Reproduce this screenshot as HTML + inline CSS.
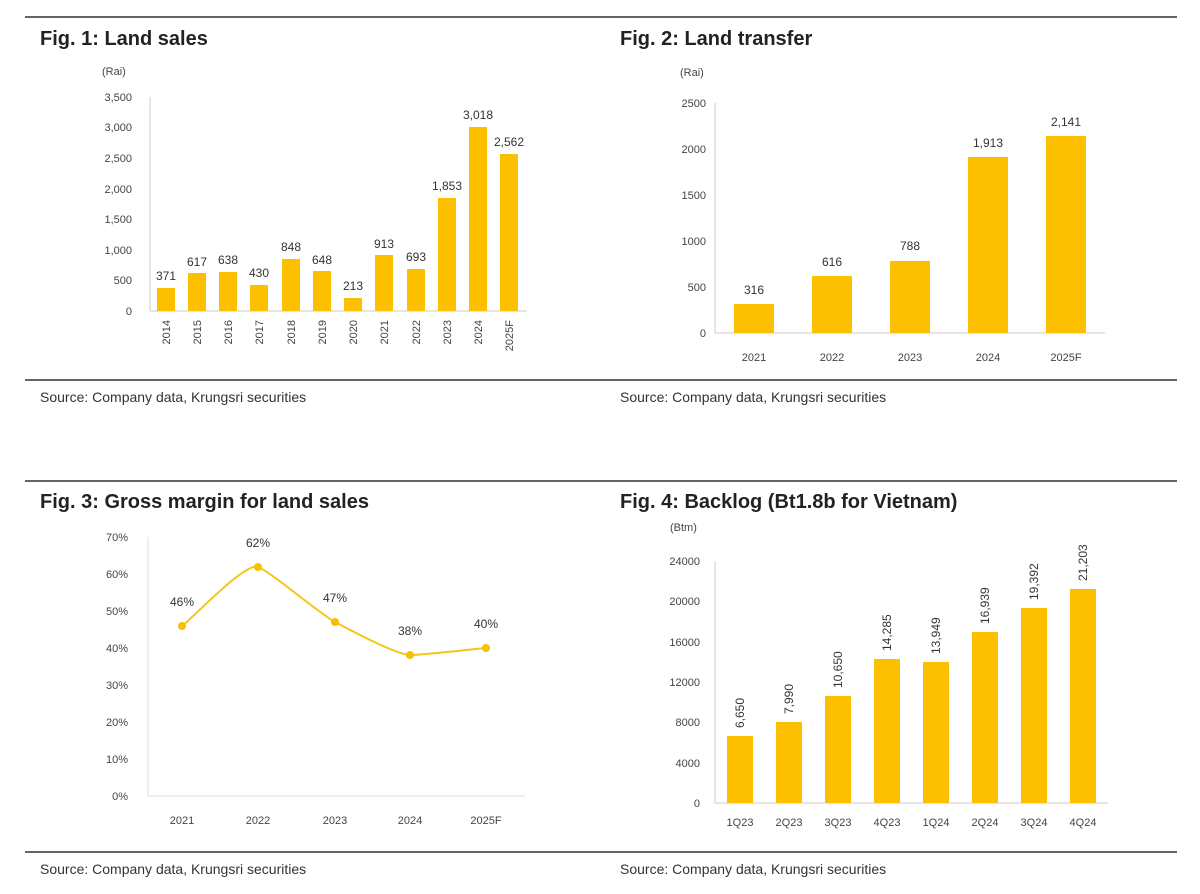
<!DOCTYPE html>
<html><head><style>
body{margin:0;background:#fff}
svg{display:block;font-family:"Liberation Sans",sans-serif}
.t{font-size:20px;font-weight:bold;fill:#222}
.s{font-size:14px;fill:#333}
.a{font-size:11px;fill:#444}
.v{font-size:12px;fill:#333}
.b{fill:#FCC000}
</style></head><body>
<svg width="1200" height="894" viewBox="0 0 1200 894">
<g stroke="#666" stroke-width="2">
<line x1="25" y1="17" x2="1177" y2="17"/><line x1="25" y1="380" x2="1177" y2="380"/>
<line x1="25" y1="481" x2="1177" y2="481"/><line x1="25" y1="852" x2="1177" y2="852"/>
</g>
<text class="t" x="40" y="45">Fig. 1: Land sales</text>
<text class="t" x="620" y="45">Fig. 2: Land transfer</text>
<text class="t" x="40" y="508">Fig. 3: Gross margin for land sales</text>
<text class="t" x="620" y="508">Fig. 4: Backlog (Bt1.8b for Vietnam)</text>
<text class="s" x="40" y="402">Source: Company data, Krungsri securities</text>
<text class="s" x="620" y="402">Source: Company data, Krungsri securities</text>
<text class="s" x="40" y="874">Source: Company data, Krungsri securities</text>
<text class="s" x="620" y="874">Source: Company data, Krungsri securities</text>

<!-- Fig1 -->
<text class="a" x="102" y="75">(Rai)</text>
<g class="a" text-anchor="end">
<text x="132" y="315">0</text><text x="132" y="284">500</text><text x="132" y="254">1,000</text><text x="132" y="223">1,500</text><text x="132" y="193">2,000</text><text x="132" y="162">2,500</text><text x="132" y="131">3,000</text><text x="132" y="101">3,500</text>
</g>
<g stroke="#ccc"><line x1="150" y1="97" x2="150" y2="311"/><line x1="150" y1="311" x2="527" y2="311"/></g>
<g class="b">
<rect x="157" y="288" width="18" height="23"/><rect x="188" y="273" width="18" height="38"/><rect x="219" y="272" width="18" height="39"/><rect x="250" y="285" width="18" height="26"/><rect x="282" y="259" width="18" height="52"/><rect x="313" y="271" width="18" height="40"/><rect x="344" y="298" width="18" height="13"/><rect x="375" y="255" width="18" height="56"/><rect x="407" y="269" width="18" height="42"/><rect x="438" y="198" width="18" height="113"/><rect x="469" y="127" width="18" height="184"/><rect x="500" y="154" width="18" height="157"/>
</g>
<g class="v" text-anchor="middle">
<text x="166" y="280">371</text><text x="197" y="266">617</text><text x="228" y="264">638</text><text x="259" y="277">430</text><text x="291" y="251">848</text><text x="322" y="264">648</text><text x="353" y="290">213</text><text x="384" y="248">913</text><text x="416" y="261">693</text><text x="447" y="190">1,853</text><text x="478" y="119">3,018</text><text x="509" y="146">2,562</text>
</g>
<g class="a" text-anchor="end">
<text transform="translate(170,320) rotate(-90)">2014</text><text transform="translate(201,320) rotate(-90)">2015</text><text transform="translate(232,320) rotate(-90)">2016</text><text transform="translate(263,320) rotate(-90)">2017</text><text transform="translate(295,320) rotate(-90)">2018</text><text transform="translate(326,320) rotate(-90)">2019</text><text transform="translate(357,320) rotate(-90)">2020</text><text transform="translate(388,320) rotate(-90)">2021</text><text transform="translate(420,320) rotate(-90)">2022</text><text transform="translate(451,320) rotate(-90)">2023</text><text transform="translate(482,320) rotate(-90)">2024</text><text transform="translate(513,320) rotate(-90)">2025F</text>
</g>

<!-- Fig2 -->
<text class="a" x="680" y="76">(Rai)</text>
<g class="a" text-anchor="end">
<text x="706" y="337">0</text><text x="706" y="291">500</text><text x="706" y="245">1000</text><text x="706" y="199">1500</text><text x="706" y="153">2000</text><text x="706" y="107">2500</text>
</g>
<g stroke="#ccc"><line x1="715" y1="103" x2="715" y2="333"/><line x1="715" y1="333" x2="1105" y2="333"/></g>
<g class="b">
<rect x="734" y="304" width="40" height="29"/><rect x="812" y="276" width="40" height="57"/><rect x="890" y="261" width="40" height="72"/><rect x="968" y="157" width="40" height="176"/><rect x="1046" y="136" width="40" height="197"/>
</g>
<g class="v" text-anchor="middle">
<text x="754" y="294">316</text><text x="832" y="266">616</text><text x="910" y="250">788</text><text x="988" y="147">1,913</text><text x="1066" y="126">2,141</text>
</g>
<g class="a" text-anchor="middle">
<text x="754" y="361">2021</text><text x="832" y="361">2022</text><text x="910" y="361">2023</text><text x="988" y="361">2024</text><text x="1066" y="361">2025F</text>
</g>

<!-- Fig3 -->
<g class="a" text-anchor="end">
<text x="128" y="800">0%</text><text x="128" y="763">10%</text><text x="128" y="726">20%</text><text x="128" y="689">30%</text><text x="128" y="652">40%</text><text x="128" y="615">50%</text><text x="128" y="578">60%</text><text x="128" y="541">70%</text>
</g>
<g stroke="#ddd"><line x1="148" y1="537" x2="148" y2="796"/><line x1="148" y1="796" x2="525" y2="796"/></g>
<path d="M182,626 C195,616 245,562 258,567 C271,572 320,614 335,622 C350,630 397,655 410,655 C423,655 473,649 486,648" fill="none" stroke="#F5C518" stroke-width="2"/>
<g fill="#F5C000"><circle cx="182" cy="626" r="4"/><circle cx="258" cy="567" r="4"/><circle cx="335" cy="622" r="4"/><circle cx="410" cy="655" r="4"/><circle cx="486" cy="648" r="4"/></g>
<g class="v" text-anchor="middle">
<text x="182" y="606">46%</text><text x="258" y="547">62%</text><text x="335" y="602">47%</text><text x="410" y="635">38%</text><text x="486" y="628">40%</text>
</g>
<g class="a" text-anchor="middle">
<text x="182" y="824">2021</text><text x="258" y="824">2022</text><text x="335" y="824">2023</text><text x="410" y="824">2024</text><text x="486" y="824">2025F</text>
</g>

<!-- Fig4 -->
<text class="a" x="670" y="531">(Btm)</text>
<g class="a" text-anchor="end">
<text x="700" y="807">0</text><text x="700" y="767">4000</text><text x="700" y="726">8000</text><text x="700" y="686">12000</text><text x="700" y="646">16000</text><text x="700" y="605">20000</text><text x="700" y="565">24000</text>
</g>
<g stroke="#ccc"><line x1="715" y1="561" x2="715" y2="803"/><line x1="715" y1="803" x2="1108" y2="803"/></g>
<g class="b">
<rect x="727" y="736" width="26" height="67"/><rect x="776" y="722" width="26" height="81"/><rect x="825" y="696" width="26" height="107"/><rect x="874" y="659" width="26" height="144"/><rect x="923" y="662" width="26" height="141"/><rect x="972" y="632" width="26" height="171"/><rect x="1021" y="608" width="26" height="195"/><rect x="1070" y="589" width="26" height="214"/>
</g>
<g class="v" text-anchor="start">
<text transform="translate(744,728) rotate(-90)">6,650</text><text transform="translate(793,714) rotate(-90)">7,990</text><text transform="translate(842,688) rotate(-90)">10,650</text><text transform="translate(891,651) rotate(-90)">14,285</text><text transform="translate(940,654) rotate(-90)">13,949</text><text transform="translate(989,624) rotate(-90)">16,939</text><text transform="translate(1038,600) rotate(-90)">19,392</text><text transform="translate(1087,581) rotate(-90)">21,203</text>
</g>
<g class="a" text-anchor="middle">
<text x="740" y="826">1Q23</text><text x="789" y="826">2Q23</text><text x="838" y="826">3Q23</text><text x="887" y="826">4Q23</text><text x="936" y="826">1Q24</text><text x="985" y="826">2Q24</text><text x="1034" y="826">3Q24</text><text x="1083" y="826">4Q24</text>
</g>
</svg>
</body></html>
